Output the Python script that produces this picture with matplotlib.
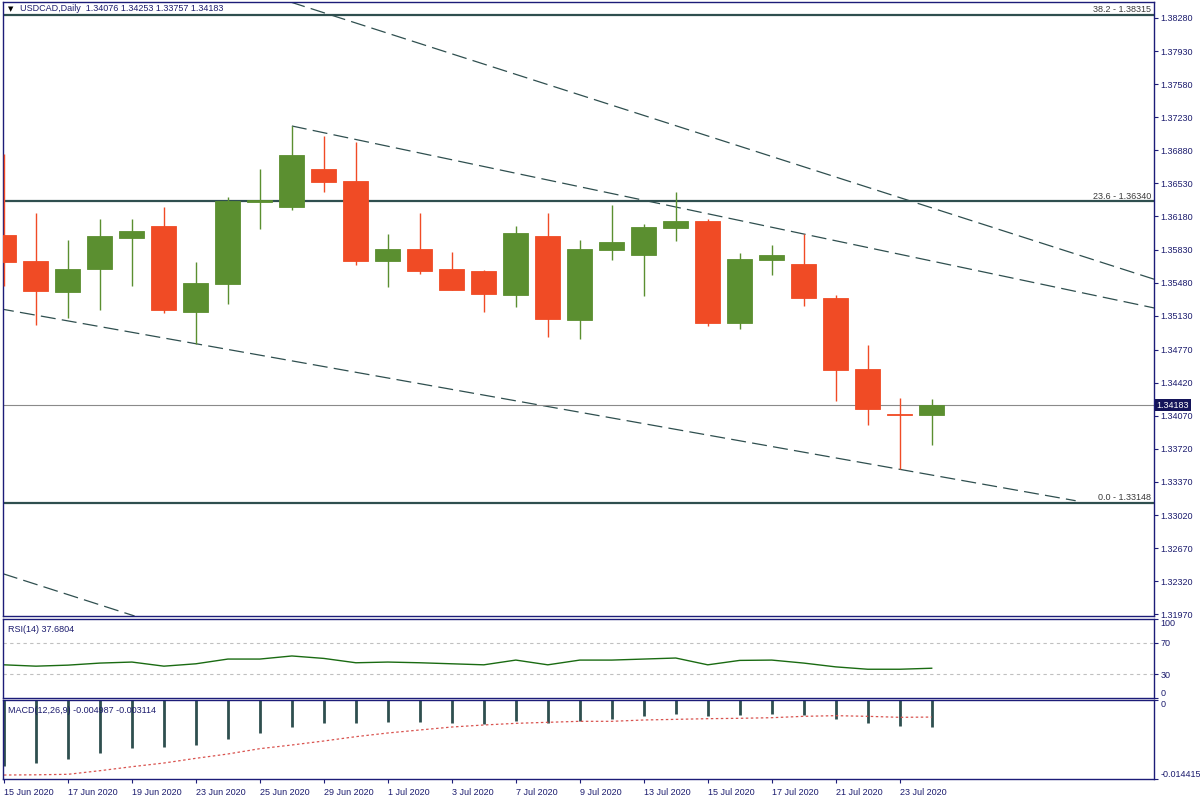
import matplotlib
matplotlib.use("Agg")
import matplotlib.pyplot as plt
from matplotlib import transforms, font_manager

names = {f.name for f in font_manager.fontManager.ttflist}
base = "Liberation Sans Narrow" if "Liberation Sans Narrow" in names else "Liberation Sans"
plt.rcParams["font.family"] = [base, "DejaVu Sans"]

# daily candles, 15 Jun - 24 Jul 2020
dates = ["15 Jun 2020", "16 Jun 2020", "17 Jun 2020", "18 Jun 2020", "19 Jun 2020",
         "22 Jun 2020", "23 Jun 2020", "24 Jun 2020", "25 Jun 2020", "26 Jun 2020",
         "29 Jun 2020", "30 Jun 2020", "1 Jul 2020", "2 Jul 2020", "3 Jul 2020",
         "6 Jul 2020", "7 Jul 2020", "8 Jul 2020", "9 Jul 2020", "10 Jul 2020",
         "13 Jul 2020", "14 Jul 2020", "15 Jul 2020", "16 Jul 2020", "17 Jul 2020",
         "20 Jul 2020", "21 Jul 2020", "22 Jul 2020", "23 Jul 2020", "24 Jul 2020"]
opens = [1.35984, 1.35709, 1.35384, 1.35627, 1.35955, 1.36079, 1.35172, 1.35468, 1.36336, 1.36283,
         1.36682, 1.36555, 1.35712, 1.35836, 1.35624, 1.35603, 1.35352, 1.35973, 1.35087, 1.35828,
         1.35775, 1.36061, 1.36132, 1.35056, 1.35722, 1.35677, 1.35317, 1.34566, 1.34090, 1.34076]
highs = [1.36841, 1.36217, 1.35931, 1.36153, 1.36153, 1.36280, 1.35698, 1.36386, 1.36682, 1.37137,
         1.37031, 1.36968, 1.35994, 1.36217, 1.35804, 1.35610, 1.36079, 1.36217, 1.35931, 1.36301,
         1.36100, 1.36439, 1.36153, 1.35793, 1.35878, 1.35994, 1.35349, 1.34820, 1.34259, 1.34253]
lows = [1.35444, 1.35035, 1.35105, 1.35193, 1.35447, 1.35162, 1.34833, 1.35257, 1.36050, 1.36251,
        1.36442, 1.35669, 1.35437, 1.35574, 1.35400, 1.35172, 1.35225, 1.34907, 1.34886, 1.35722,
        1.35341, 1.35923, 1.35024, 1.34992, 1.35564, 1.35236, 1.34230, 1.33976, 1.33504, 1.33757]
closes = [1.35701, 1.35394, 1.35624, 1.35973, 1.36026, 1.35193, 1.35476, 1.36344, 1.36354, 1.36830,
          1.36548, 1.35712, 1.35836, 1.35606, 1.35405, 1.35363, 1.36005, 1.35098, 1.35836, 1.35910,
          1.36068, 1.36132, 1.35056, 1.35730, 1.35772, 1.35320, 1.34558, 1.34146, 1.34076, 1.34183]

rsi = [42.0, 40.3, 41.6, 44.2, 45.5, 40.3, 43.3, 49.3, 49.3, 53.2,
       50.1, 44.6, 45.5, 44.6, 43.3, 42.0, 48.0, 42.0, 48.0, 48.0,
       49.3, 50.6, 42.0, 47.6, 48.0, 44.2, 39.4, 36.4, 36.4, 37.68]
macd_hist = [-0.01204, -0.01144, -0.01071, -0.00962, -0.00870, -0.00852, -0.00815, -0.00706, -0.00597, -0.00487,
             -0.00414, -0.00414, -0.00396, -0.00396, -0.00414, -0.00432, -0.00377, -0.00414, -0.00377, -0.00341,
             -0.00292, -0.00250, -0.00292, -0.00268, -0.00250, -0.00274, -0.00341, -0.00414, -0.00470, -0.004987]
macd_signal = [-0.01369, -0.01365, -0.01356, -0.01290, -0.01217, -0.01150, -0.01064, -0.00985, -0.00888, -0.00821,
               -0.00748, -0.00669, -0.00602, -0.00547, -0.00493, -0.00456, -0.00426, -0.00407, -0.00389, -0.00389,
               -0.00365, -0.00353, -0.00341, -0.00334, -0.00323, -0.00298, -0.00286, -0.00298, -0.00316, -0.003114]

fib_levels = [1.38315, 1.36340, 1.33148]
fib_names = ["38.2", "23.6", "0.0"]
price_ticks = [1.38280, 1.37930, 1.37580, 1.37230, 1.36880, 1.36530, 1.36180, 1.35830, 1.35480,
               1.35130, 1.34770, 1.34420, 1.34070, 1.33720, 1.33370, 1.33020, 1.32670, 1.32320, 1.31970]

# trend lines as (bar index, price) anchors
outer_line = [(9, 1.38444), (29, 1.36271)]
outer_parallel = [(0, 1.32396), (4, 1.31961)]
channel_top = [(9, 1.37137), (25, 1.35994)]
channel_bottom = [(6, 1.34833), (28, 1.33504)]

GREEN = "#5b8f30"
RED = "#f04b25"
FRAME = "#1c1c78"
LINE = "#2f4f4f"
TXT = "#1c1c6e"
FS = 7.5 if base == "Liberation Sans Narrow" else 6.5


def style_axes(ax):
    for s in ax.spines.values():
        s.set_color(FRAME)
        s.set_linewidth(1.0)
    ax.yaxis.tick_right()
    ax.tick_params(axis="y", colors=FRAME, labelcolor=TXT, labelsize=FS, length=3, pad=1.5, width=0.8)
    ax.tick_params(axis="x", colors=FRAME, labelcolor=TXT, labelsize=FS, length=3, width=0.8)
    ax.set_xlim(-0.03, 35.95)


def line_y(pts, x):
    (x0, y0), (x1, y1) = pts
    return y0 + (y1 - y0) * (x - x0) / (x1 - x0)


def plot_chart():
    fig = plt.figure(figsize=(12, 8), dpi=100)
    ax = fig.add_axes([0.0025, 0.23, 0.9592, 0.7675])
    ax_rsi = fig.add_axes([0.0025, 0.1275, 0.9592, 0.09875])
    ax_macd = fig.add_axes([0.0025, 0.02625, 0.9592, 0.09875])
    for a in (ax, ax_rsi, ax_macd):
        style_axes(a)

    x = list(range(len(dates)))

    # candles
    for i in x:
        o, h, l, c = opens[i], highs[i], lows[i], closes[i]
        col = GREEN if c >= o else RED
        ax.vlines(i, l, h, color=col, lw=1.0, zorder=3)
        ax.bar(i, abs(c - o), bottom=min(o, c), width=0.78, color=col,
               edgecolor=col, linewidth=0.6, zorder=4)

    # fibonacci levels
    for lvl, name in zip(fib_levels, fib_names):
        ax.axhline(lvl, color=LINE, lw=1.6, zorder=2)
        ax.text(35.85, lvl + 0.00008, f"{name} - {lvl:.5f}", ha="right", va="bottom",
                fontsize=FS, color="#3a3a3a")

    # trend lines
    dash = dict(color=LINE, lw=0.9, dashes=(12, 5), zorder=2)
    ax.axline(outer_line[0], outer_line[1], **dash)
    ax.axline(outer_parallel[0], outer_parallel[1], **dash)
    ax.plot([channel_top[0][0], 36.5], [channel_top[0][1], line_y(channel_top, 36.5)], **dash)
    ax.plot([-1, 33.5], [line_y(channel_bottom, -1), line_y(channel_bottom, 33.5)], **dash)

    # current price
    last = closes[-1]
    ax.axhline(last, color="#8a8a8a", lw=0.8, zorder=2)
    trans = transforms.blended_transform_factory(ax.transAxes, ax.transData)
    ax.text(1.002, last, f"{last:.5f}", transform=trans, ha="left", va="center",
            fontsize=FS, color="white", zorder=10,
            bbox=dict(boxstyle="square,pad=0.2", fc="#14145a", ec="none"))

    ax.set_ylim(1.31952, 1.38449)
    ax.set_yticks(price_ticks)
    ax.set_yticklabels([f"{t:.5f}" for t in price_ticks])
    ax.set_xticks([])
    ax.text(0.004, 0.994, "\u25bc", transform=ax.transAxes, fontsize=5, color="black",
            ha="left", va="top", family="DejaVu Sans")
    ax.text(0.015, 0.996, "USDCAD,Daily  1.34076 1.34253 1.33757 1.34183",
            transform=ax.transAxes, fontsize=FS, color=TXT, ha="left", va="top")

    # RSI
    ax_rsi.plot(x, rsi, color="#1a6b12", lw=1.0)
    for lvl in (70, 30):
        ax_rsi.axhline(lvl, color="#c0c0c0", lw=0.8, dashes=(3, 3))
    ax_rsi.set_ylim(0, 100)
    ax_rsi.set_yticks([0, 30, 70, 100])
    ax_rsi.set_yticklabels(["0", "30", "70", "100"])
    labs = ax_rsi.get_yticklabels()
    labs[0].set_va("bottom")
    labs[3].set_va("top")
    ax_rsi.set_xticks([])
    ax_rsi.text(0.004, 0.93, "RSI(14) 37.6804", transform=ax_rsi.transAxes,
                fontsize=FS, color=TXT, ha="left", va="top")

    # MACD
    ax_macd.vlines(x, macd_hist, 0, color=LINE, lw=2.0)
    ax_macd.plot(x, macd_signal, color="#d9534f", lw=0.9, dashes=(2, 2))
    ax_macd.set_ylim(-0.014415, 0)
    ax_macd.set_yticks([-0.014415, 0])
    ax_macd.set_yticklabels(["-0.014415", "0"])
    labs = ax_macd.get_yticklabels()
    labs[0].set_va("bottom")
    labs[1].set_va("top")
    ax_macd.text(0.004, 0.93, "MACD(12,26,9) -0.004987 -0.003114", transform=ax_macd.transAxes,
                 fontsize=FS, color=TXT, ha="left", va="top")
    ax_macd.set_xticks(x[::2])
    ax_macd.set_xticklabels(dates[::2])
    for t in ax_macd.get_xticklabels():
        t.set_ha("left")

    fig.savefig("out.png", dpi=100, facecolor="white")


if __name__ == "__main__":
    plot_chart()
